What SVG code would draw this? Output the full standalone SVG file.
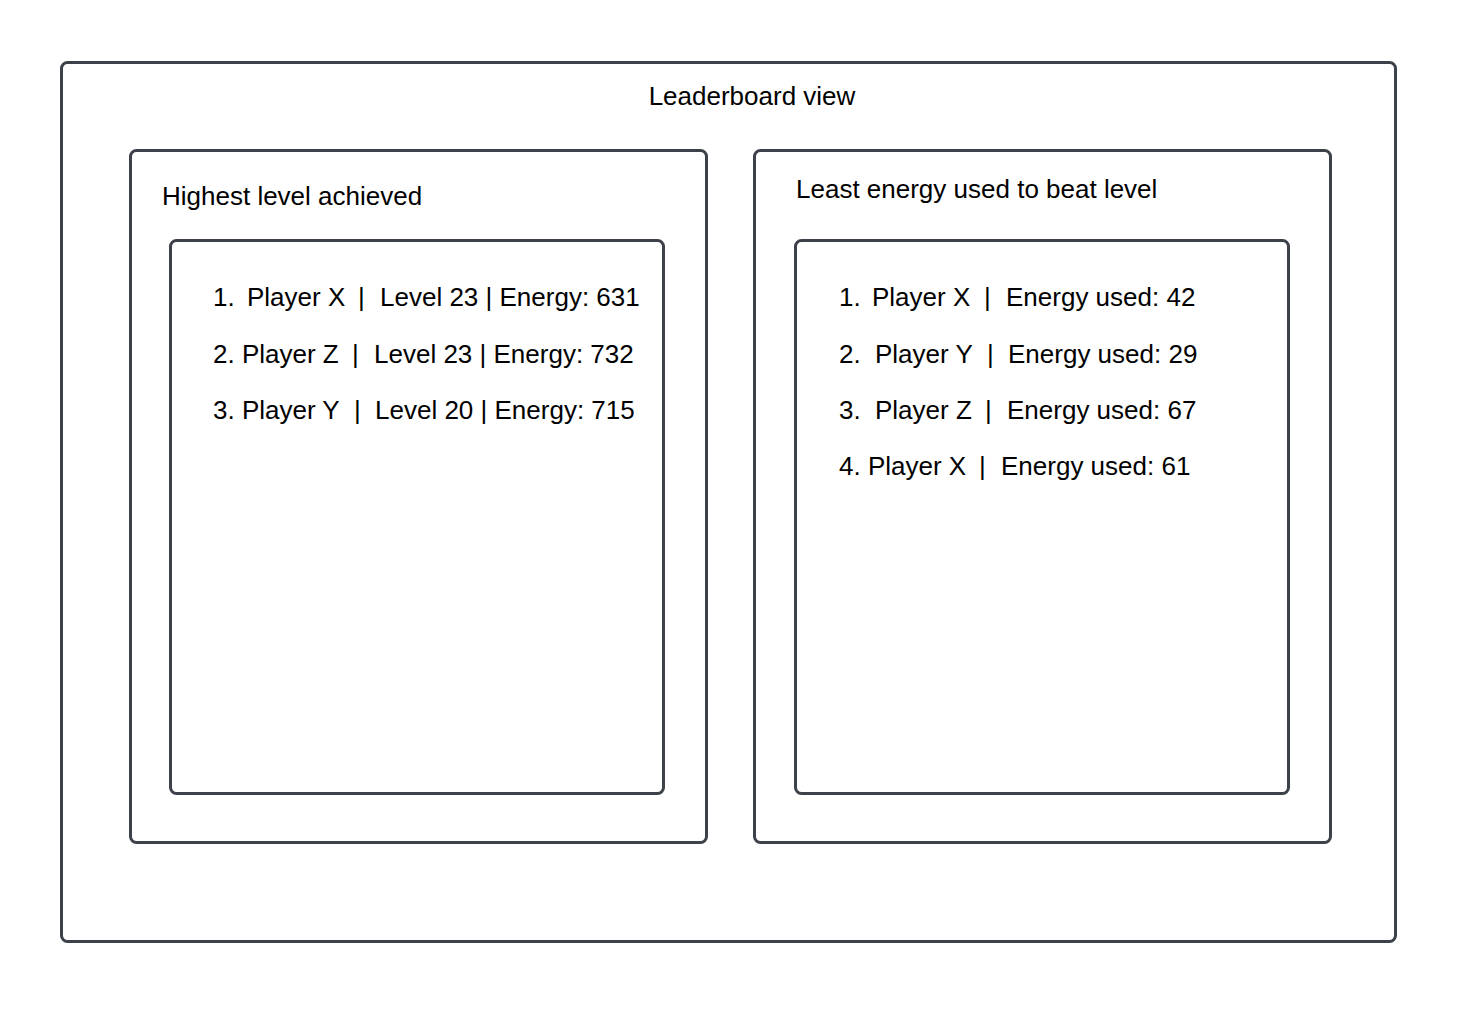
<svg xmlns="http://www.w3.org/2000/svg" width="1476" height="1012" viewBox="0 0 1476 1012">
<style>
.box{fill:#ffffff;stroke:#3d4149;stroke-width:3}
.t{font-family:"Liberation Sans",Arial,sans-serif;font-size:26px;fill:#000000}
</style>
<rect x="0" y="0" width="1476" height="1012" fill="#ffffff"/>
<g id="leaderboard-view">
<rect class="box" x="61.5" y="62.5" width="1334" height="879" rx="6"/>
<text class="t" x="752" y="105" text-anchor="middle">Leaderboard view</text>
</g>
<g id="highest-level">
<rect class="box" x="130.5" y="150.5" width="576" height="692" rx="6"/>
<text class="t" x="162" y="205">Highest level achieved</text>
</g>
<g id="highest-level-list">
<rect class="box" x="170.5" y="240.5" width="493" height="553" rx="6"/>
<text class="t" y="306"><tspan x="213">1.</tspan><tspan x="247">Player X</tspan><tspan x="358">|</tspan><tspan x="380">Level 23 | Energy: 631</tspan></text>
<text class="t" y="363"><tspan x="213">2. Player Z</tspan><tspan x="352">|</tspan><tspan x="374">Level 23 | Energy: 732</tspan></text>
<text class="t" y="419"><tspan x="213">3. Player Y</tspan><tspan x="354">|</tspan><tspan x="375">Level 20 | Energy: 715</tspan></text>
</g>
<g id="least-energy">
<rect class="box" x="754.5" y="150.5" width="576" height="692" rx="6"/>
<text class="t" x="796" y="198">Least energy used to beat level</text>
</g>
<g id="least-energy-list">
<rect class="box" x="795.5" y="240.5" width="493" height="553" rx="6"/>
<text class="t" y="306"><tspan x="839">1.</tspan><tspan x="872">Player X</tspan><tspan x="984">|</tspan><tspan x="1006">Energy used: 42</tspan></text>
<text class="t" y="363"><tspan x="839">2.</tspan><tspan x="875">Player Y</tspan><tspan x="987">|</tspan><tspan x="1008">Energy used: 29</tspan></text>
<text class="t" y="419"><tspan x="839">3.</tspan><tspan x="875">Player Z</tspan><tspan x="985">|</tspan><tspan x="1007">Energy used: 67</tspan></text>
<text class="t" y="475"><tspan x="839">4. Player X</tspan><tspan x="979">|</tspan><tspan x="1001">Energy used: 61</tspan></text>
</g>
<g id="connectors"></g>
</svg>
